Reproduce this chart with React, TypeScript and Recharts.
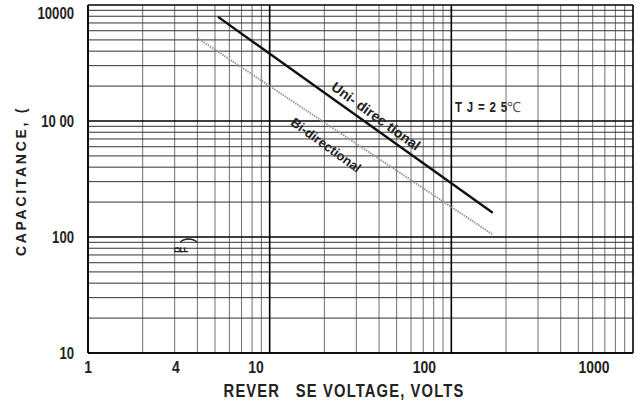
import React from "react";
import {
  LineChart,
  Line,
  XAxis,
  YAxis,
  ReferenceLine,
} from "recharts";

// reverse voltage (V) vs capacitance (pF)
const uniVolts = [5.2, 169];
const uniPf = [7900, 162];
const biVolts = [4.0, 169];
const biPf = [5200, 105];

// the printed tick labels sit off the grid in the source figure,
// so they are placed at the values where they actually appear
const xTickValues = [1, 3.05, 8.4, 71, 610];
const xTickLabels = ["1", "4", "10", "100", "1000"];
const yTickValues = [10, 100, 1000, 8500];
const yTickLabels = ["10", "100", "10 00", "10000"];

const xDecades = [1, 10, 100, 1000];
const xMinors = [2, 3, 4, 5, 6, 7, 8, 9, 20, 30, 40, 50, 60, 70, 80, 90, 200, 300, 400, 500, 600, 700, 800, 900];
const yDecades = [10, 100, 1000, 10000];
const yMinors = [20, 30, 40, 50, 60, 70, 80, 90, 200, 300, 400, 500, 600, 700, 800, 900, 2000, 3000, 4000, 5000, 6000, 7000, 8000, 9000];

const uniData = uniVolts.map((v, i) => ({ v, c: uniPf[i] }));
const biData = biVolts.map((v, i) => ({ v, c: biPf[i] }));

const sans = "'Liberation Sans', Arial, sans-serif";

// condensed bold text, faked with a horizontal squeeze
function Narrow(props: any) {
  const { x, y, anchor = "start", size, spacing = 0, children } = props;
  return (
    <g transform={`translate(${x},${y}) scale(0.82,1)`}>
      <text
        x={0}
        y={0}
        textAnchor={anchor}
        fontFamily={sans}
        fontWeight="bold"
        fontSize={size}
        letterSpacing={spacing}
        fill="#222"
        style={{ whiteSpace: "pre" }}
      >
        {children}
      </text>
    </g>
  );
}

function XTick(props: any) {
  const { x, y, payload } = props;
  const i = xTickValues.indexOf(payload.value);
  return (
    <Narrow x={x} y={y + 20} anchor="middle" size={17}>
      {xTickLabels[i]}
    </Narrow>
  );
}

function YTick(props: any) {
  const { x, y, payload } = props;
  const i = yTickValues.indexOf(payload.value);
  return (
    <Narrow x={x - 14} y={y + 6} anchor="end" size={16}>
      {yTickLabels[i]}
    </Narrow>
  );
}

export default function App() {
  return (
    <div style={{ position: "relative", width: 636, height: 402, background: "#fff" }}>
      <style>{"body{margin:0}"}</style>
      <LineChart width={636} height={402} margin={{ top: 5, right: 3, left: 0, bottom: 0 }}>
        <XAxis
          type="number"
          dataKey="v"
          scale="log"
          domain={[1, 1000]}
          allowDataOverflow
          ticks={xTickValues}
          tick={<XTick />}
          tickLine={false}
          tickSize={0}
          tickMargin={0}
          height={49}
          axisLine={{ stroke: "#000", strokeWidth: 1.5 }}
        />
        <YAxis
          type="number"
          dataKey="c"
          scale="log"
          domain={[10, 10000]}
          allowDataOverflow
          ticks={yTickValues}
          tick={<YTick />}
          tickLine={false}
          tickSize={0}
          tickMargin={0}
          width={88}
          axisLine={{ stroke: "#000", strokeWidth: 1.5 }}
        />
        {xMinors.map((v) => (
          <ReferenceLine key={"xm" + v} x={v} stroke="#707070" strokeWidth={1} />
        ))}
        {yMinors.map((v) => (
          <ReferenceLine key={"ym" + v} y={v} stroke="#333" strokeWidth={1} />
        ))}
        {xDecades.map((v) => (
          <ReferenceLine key={"xd" + v} x={v} stroke="#000" strokeWidth={1.6} />
        ))}
        {yDecades.map((v) => (
          <ReferenceLine key={"yd" + v} y={v} stroke="#000" strokeWidth={1.6} />
        ))}
        <Line
          data={biData}
          dataKey="c"
          stroke="#9a9a9a"
          strokeWidth={2}
          strokeDasharray="1.5 1"
          dot={false}
          isAnimationActive={false}
        />
        <Line
          data={uniData}
          dataKey="c"
          stroke="#111"
          strokeWidth={2.4}
          dot={false}
          isAnimationActive={false}
        />
      </LineChart>
      <svg
        width={636}
        height={402}
        style={{ position: "absolute", left: 0, top: 0, pointerEvents: "none" }}
      >
        <text
          x={376}
          y={116}
          textAnchor="middle"
          dominantBaseline="central"
          transform="rotate(36 376 116)"
          fontFamily={sans}
          fontWeight="bold"
          fontSize={14}
          fill="#222"
        >
          Uni- direc tional
        </text>
        <text
          x={326}
          y={145}
          textAnchor="middle"
          dominantBaseline="central"
          transform="rotate(36 326 145)"
          fontFamily={sans}
          fontWeight="bold"
          fontSize={13}
          fill="#222"
        >
          Bi-directional
        </text>
        <Narrow x={455} y={112} size={14} spacing={1}>
          T J = 2 5
        </Narrow>
        <text x={507} y={112} fontFamily={sans} fontSize={14} fill="#555">
          ℃
        </text>
        <text x={180} y={253} rotate="-90" fontFamily={sans} fontWeight="bold" fontSize={10} fill="#222" letterSpacing={2}>
          pF
        </text>
        <text
          x={187}
          y={240}
          textAnchor="middle"
          dominantBaseline="central"
          transform="rotate(-90 187 240)"
          fontFamily={sans}
          fontSize={18}
          fill="#222"
        >
          )
        </text>
        <text
          x={21}
          y={181}
          textAnchor="middle"
          dominantBaseline="central"
          transform="rotate(-90 21 181)"
          fontFamily={sans}
          fontWeight="bold"
          fontSize={14}
          letterSpacing={2.7}
          fill="#222"
        >
          CAPACITANCE, (
        </text>
        <Narrow x={344} y={397} anchor="middle" size={18} spacing={1.4}>
          {"REVER\u00a0\u00a0 SE VOLTAGE, VOLTS"}
        </Narrow>
      </svg>
    </div>
  );
}
